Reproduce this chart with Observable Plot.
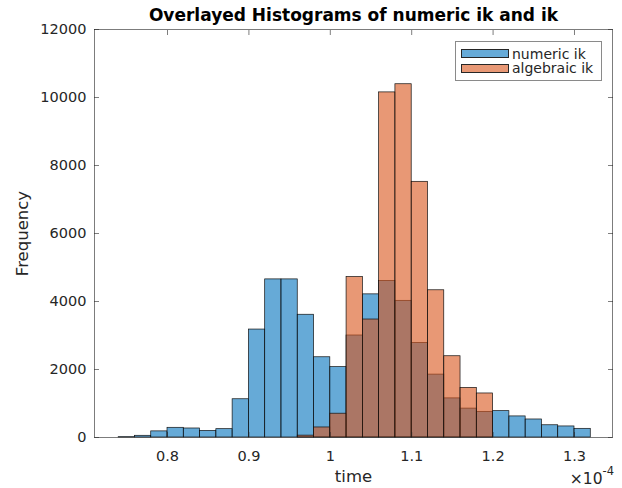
<!DOCTYPE html>
<html>
<head>
<meta charset="utf-8">
<script src="https://cdn.jsdelivr.net/npm/d3@7"></script>
<script src="https://cdn.jsdelivr.net/npm/@observablehq/plot@0.6"></script>
<style>
  html, body { margin: 0; padding: 0; background: #fff; }
  #wrap { position: relative; width: 622px; height: 488px; font-family: "DejaVu Sans", sans-serif; }
  #legend { position: absolute; left: 455px; top: 41px; width: 147px; height: 40px; border: 1px solid #8a8a8a; background: #fff; box-sizing: border-box; font-size: 14px; color: #262626; }
  .row { position: absolute; left: 5px; height: 14px; display: flex; align-items: center; white-space: nowrap; }
  .sw { width: 48px; height: 9px; border: 1px solid #262626; box-sizing: border-box; margin-right: 3px; }
</style>
</head>
<body>
<div id="wrap"></div>
<script>
// x values in units of 1e-4 s
const numericEdges = [0.74,0.76,0.78,0.80,0.82,0.84,0.86,0.88,0.90,0.92,0.94,0.96,0.98,1.00,1.02,1.04,1.06,1.08,1.10,1.12,1.14,1.16,1.18,1.20,1.22,1.24,1.26,1.28,1.30,1.32];
const numericCounts = [10,50,180,285,265,195,245,1125,3175,4650,4650,3610,2360,2070,3000,4210,4605,4020,2780,1850,1150,850,755,775,620,530,360,325,255];
const algebraicEdges = [0.96,0.98,1.00,1.02,1.04,1.06,1.08,1.10,1.12,1.14,1.16,1.18,1.20];
const algebraicCounts = [55,295,700,4720,3470,10150,10390,7520,4330,2390,1460,1295];
const xTicks = [0.8,0.9,1.0,1.1,1.2,1.3];
const xTickLabels = ["0.8","0.9","1","1.1","1.2","1.3"];
const yTicks = [0,2000,4000,6000,8000,10000,12000];
const seriesNames = ["numeric ik","algebraic ik"];
const seriesColors = ["#0072BD","#D95319"];

const toBins = (edges, counts) => counts.map((c, i) => ({x1: edges[i], x2: edges[i + 1], y: c}));
const numeric = toBins(numericEdges, numericCounts);
const algebraic = toBins(algebraicEdges, algebraicCounts);

const axisColor = "#262626";

const plot = Plot.plot({
  width: 622,
  height: 488,
  marginLeft: 94,
  marginRight: 10,
  marginTop: 29,
  marginBottom: 51,
  style: {fontFamily: "DejaVu Sans, sans-serif", fontSize: "14.5px", color: axisColor, background: "#fff"},
  x: {domain: [0.7103, 1.3467]},
  y: {domain: [0, 12000]},
  marks: [
    Plot.rectY(numeric, {x1: "x1", x2: "x2", y: "y", fill: seriesColors[0], fillOpacity: 0.6, stroke: "#111", strokeWidth: 0.7, inset: 0}),
    Plot.rectY(algebraic, {x1: "x1", x2: "x2", y: "y", fill: seriesColors[1], fillOpacity: 0.6, stroke: "#111", strokeWidth: 0.7, inset: 0}),
    Plot.frame({stroke: axisColor, strokeWidth: 0.6}),
    // ticks inward, bottom/top/left/right
    Plot.axisX(xTicks, {anchor: "bottom", tickSize: -5, text: null, stroke: axisColor, strokeWidth: 0.6, label: null}),
    Plot.axisX(xTicks, {anchor: "top", tickSize: -5, text: null, stroke: axisColor, strokeWidth: 0.6, label: null}),
    Plot.axisY(yTicks, {anchor: "left", tickSize: -5, text: null, stroke: axisColor, strokeWidth: 0.6, label: null}),
    Plot.axisY(yTicks, {anchor: "right", tickSize: -5, text: null, stroke: axisColor, strokeWidth: 0.6, label: null}),
    // tick labels
    Plot.axisX(xTicks, {anchor: "bottom", tickSize: 0, tickPadding: 13, tickFormat: (d, i) => xTickLabels[i], fill: axisColor, fontSize: 14.5, label: null}),
    Plot.axisY(yTicks, {anchor: "left", tickSize: 0, tickPadding: 8, tickFormat: d => String(d), fill: axisColor, fontSize: 14.5, label: null}),
    // title and axis labels
    Plot.text(["Overlayed Histograms of numeric ik and ik"], {frameAnchor: "top", textAnchor: "middle", lineAnchor: "middle", dy: -14, fontWeight: "bold", fontSize: 17, fill: "#000"}),
    Plot.text(["time"], {frameAnchor: "bottom", textAnchor: "middle", lineAnchor: "middle", dy: 39, fontSize: 16.5, fill: axisColor}),
    Plot.text(["Frequency"], {frameAnchor: "left", textAnchor: "middle", lineAnchor: "middle", dx: -72, rotate: -90, fontSize: 16.5, fill: axisColor}),
    Plot.text(["\u00d710"], {frameAnchor: "bottom-right", dx: -10, dy: 42, textAnchor: "end", lineAnchor: "middle", fontSize: 15.5, fill: axisColor}),
    Plot.text(["-4"], {frameAnchor: "bottom-right", dx: -10, dy: 34, textAnchor: "start", lineAnchor: "middle", fontSize: 11.5, fill: axisColor})
  ]
});

const wrap = document.getElementById("wrap");
wrap.appendChild(plot);

const legend = document.createElement("div");
legend.id = "legend";
seriesNames.forEach((name, i) => {
  const row = document.createElement("div");
  row.className = "row";
  row.style.top = (4.5 + i * 14.5) + "px";
  const sw = document.createElement("div");
  sw.className = "sw";
  sw.style.background = d3.interpolateRgb("#ffffff", seriesColors[i])(0.6);
  row.appendChild(sw);
  const t = document.createElement("span");
  t.textContent = name;
  row.appendChild(t);
  legend.appendChild(row);
});
wrap.appendChild(legend);
</script>
</body>
</html>
